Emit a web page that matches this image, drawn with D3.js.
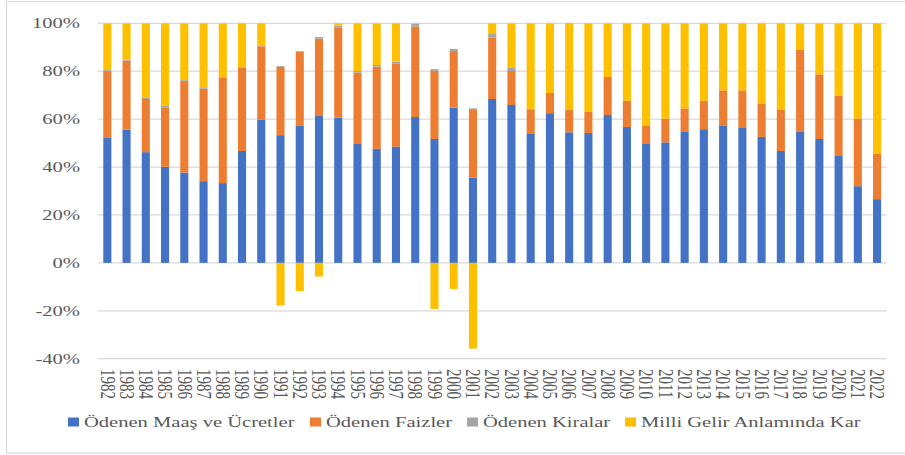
<!DOCTYPE html>
<html>
<head>
<meta charset="utf-8">
<script src="https://cdn.jsdelivr.net/npm/d3@7"></script>
<style>
  body { margin: 0; background: #fff; }
  svg { display: block; }
</style>
</head>
<body>
<svg id="chart" width="905" height="455" font-family="Liberation Serif, DejaVu Serif, serif"></svg>
<script>
// years on the x axis
const years = d3.range(1982, 2023).map(String);

// shares in percent
const wages = [52.4, 55.6, 46.2, 40.1, 37.7, 34.1, 33.3, 46.7, 59.8, 53.3,
  57.4, 61.3, 60.6, 49.6, 47.6, 48.5, 60.9, 51.7, 64.8, 35.5,
  68.4, 65.9, 53.8, 62.5, 54.5, 54.2, 61.7, 56.7, 49.9, 50.3,
  54.9, 55.8, 57.4, 56.3, 52.6, 46.7, 54.9, 51.7, 44.6, 32.0, 26.6];
const interest = [27.8, 28.8, 22.2, 24.8, 38.3, 38.6, 44.0, 34.8, 30.6, 28.6,
  30.8, 32.3, 37.7, 29.8, 34.3, 34.6, 37.7, 28.5, 23.6, 28.3,
  25.6, 14.2, 10.3, 8.4, 9.3, 8.8, 15.9, 11.0, 7.5, 9.9,
  9.6, 11.9, 14.6, 15.7, 14.0, 17.1, 34.2, 27.0, 25.2, 28.2, 18.9];
const rents = [0.3, 0.4, 0.7, 0.6, 0.3, 0.3, 0.3, 0.3, 0.4, 0.3,
  0.2, 0.7, 0.7, 0.7, 0.7, 0.9, 1.1, 0.7, 0.9, 0.7,
  1.5, 1.5, 0.2, 0, 0.1, 0, 0, 0, 0, 0,
  0, 0, 0, 0, 0, 0, 0, 0, 0, 0, 0];
const profit = [19.5, 15.2, 30.9, 34.5, 23.7, 27.0, 22.4, 18.2, 9.2, -17.8,
  -11.8, -5.7, 1.0, 19.9, 17.4, 16.0, 0.3, -19.2, -10.9, -35.8,
  4.5, 18.4, 35.7, 29.1, 36.2, 37.0, 22.4, 32.3, 42.6, 39.8,
  35.5, 32.3, 28.0, 28.0, 33.4, 36.2, 10.9, 21.3, 30.2, 39.8, 54.5];

const seriesNames = ["Ödenen Maaş ve Ücretler", "Ödenen Faizler", "Ödenen Kiralar", "Milli Gelir Anlamında Kar"];
const seriesKeys = ["wages", "interest", "rents", "profit"];
const colors = ["#4472C4", "#ED7D31", "#A5A5A5", "#FFC000"];
const yTicks = [-40, -20, 0, 20, 40, 60, 80, 100];

const table = years.map((y, i) => ({
  year: y, wages: wages[i], interest: interest[i], rents: rents[i], profit: profit[i]
}));

const svg = d3.select("#chart");
const SX = 1.37; // the original picture is stretched sideways

// outer chart frame
svg.append("rect")
  .attr("x", 6.5).attr("y", 1.5)
  .attr("width", 910).attr("height", 451.5)
  .attr("fill", "none").attr("stroke", "#D9D9D9").attr("stroke-width", 1.2);

const x = d3.scaleBand()
  .domain(years)
  .range([97.7, 886.7])
  .paddingInner(0.58)
  .paddingOuter(0.29);

const y = d3.scaleLinear()
  .domain([-40, 100])
  .range([358.7, 23.3]);

// gridlines
svg.append("g")
  .selectAll("line")
  .data(yTicks)
  .join("line")
  .attr("x1", 97.7).attr("x2", 886.7)
  .attr("y1", d => y(d)).attr("y2", d => y(d))
  .attr("stroke", "#D9D9D9").attr("stroke-width", 1.3);

// y labels
svg.append("g")
  .selectAll("text")
  .data(yTicks)
  .join("text")
  .attr("transform", d => `translate(80,${y(d)}) scale(${SX},1)`)
  .attr("text-anchor", "end")
  .attr("dy", "0.33em")
  .attr("font-size", 15)
  .attr("fill", "#595959")
  .text(d => d + "%");

// stacked bars
const stack = d3.stack()
  .keys(seriesKeys)
  .offset(d3.stackOffsetDiverging);

const layers = stack(table);

svg.append("g")
  .selectAll("g")
  .data(layers)
  .join("g")
  .attr("fill", (d, i) => colors[i])
  .selectAll("rect")
  .data(d => d)
  .join("rect")
  .attr("x", d => x(d.data.year))
  .attr("width", x.bandwidth())
  .attr("y", d => y(Math.max(d[0], d[1])))
  .attr("height", d => Math.abs(y(d[0]) - y(d[1])));

// year labels, rotated
svg.append("g")
  .selectAll("text")
  .data(years)
  .join("text")
  .attr("transform", d => `translate(${x(d) + x.bandwidth() / 2},369) scale(${SX},1) rotate(90)`)
  .attr("dy", "0.33em")
  .attr("font-size", 15)
  .attr("fill", "#595959")
  .text(d => d);

// legend
const legendX = [68, 310, 467, 625];
const legend = svg.append("g")
  .selectAll("g")
  .data(seriesNames)
  .join("g")
  .attr("transform", (d, i) => `translate(${legendX[i]},422)`);

legend.append("rect")
  .attr("x", 0).attr("y", -4.5)
  .attr("width", 11).attr("height", 9)
  .attr("fill", (d, i) => colors[i]);

legend.append("text")
  .attr("transform", `translate(16,0) scale(${SX},1)`)
  .attr("dy", "0.33em")
  .attr("font-size", 15)
  .attr("fill", "#595959")
  .text(d => d);
</script>
</body>
</html>
